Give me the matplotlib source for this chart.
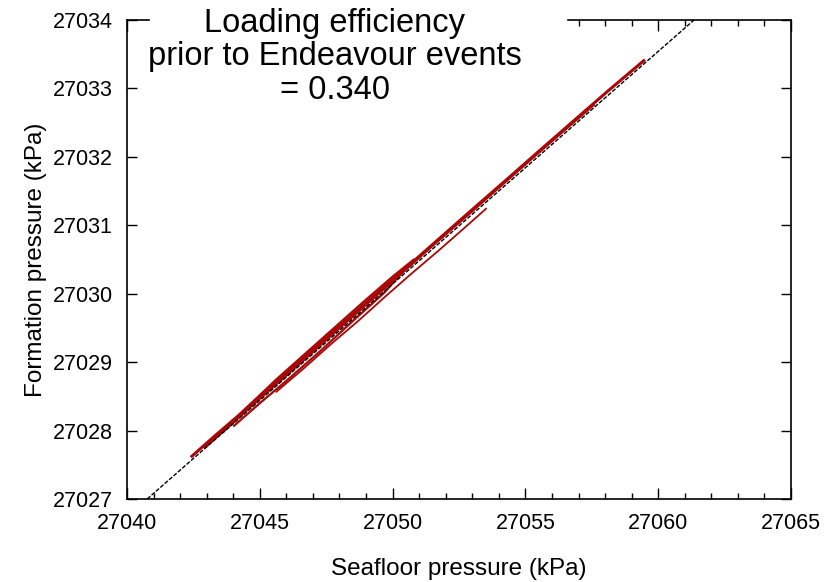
import numpy as np
import matplotlib
matplotlib.use("Agg")
import matplotlib.pyplot as plt
from matplotlib.patches import Rectangle

plt.rcParams["font.family"] = ["Liberation Sans", "DejaVu Sans"]

# --------------------------------------------
# DATA (kPa)
# --------------------------------------------
# upper sweep, slightly above the fit line
sea_up = [27042.4, 27043.3, 27044.2, 27045.1, 27046.0, 27047.2, 27048.3, 27049.5,
          27050.6, 27051.8, 27053.0, 27054.3, 27055.5, 27056.8, 27058.1, 27059.5]
form_up = [27027.61, 27027.92, 27028.22, 27028.54, 27028.84, 27029.26, 27029.63, 27030.04,
           27030.41, 27030.82, 27031.23, 27031.67, 27032.08, 27032.52, 27032.96, 27033.42]

# return sweep, on the fit line
sea_mid = [27057.6, 27056.5, 27055.2, 27054.0, 27052.8, 27051.5, 27050.2, 27049.0,
           27047.6, 27046.3, 27045.0, 27043.8, 27042.9]
form_mid = [27032.77, 27032.40, 27031.96, 27031.55, 27031.14, 27030.70, 27030.25, 27029.84,
            27029.36, 27028.91, 27028.47, 27028.05, 27027.74]

# broader loops in the middle of the range
sea_loop = [27043.6, 27044.5, 27045.6, 27046.7, 27047.8, 27048.9, 27050.0, 27050.8,
            27049.7, 27048.5, 27047.3, 27046.1, 27045.0, 27044.0]
form_loop = [27027.97, 27028.33, 27028.74, 27029.12, 27029.50, 27029.88, 27030.25, 27030.50,
             27030.02, 27029.60, 27029.17, 27028.76, 27028.40, 27028.06]

# lower branch ending near 27053.5
sea_low = [27045.6, 27046.6, 27047.7, 27048.7, 27049.7, 27050.7, 27051.7, 27052.7, 27053.54]
form_low = [27028.56, 27028.89, 27029.27, 27029.60, 27029.95, 27030.29, 27030.62, 27030.96, 27031.25]

# fitted loading efficiency line
efficiency = 0.340
fit_sea = [27040.76, 27061.35]
fit_form = [27027.0, 27027.0 + efficiency * (fit_sea[1] - fit_sea[0])]

red = "#a80808"

# --------------------------------------------
# PLOT
# --------------------------------------------
fig = plt.figure(figsize=(8.25, 5.82), dpi=100)
ax = fig.add_axes([0.1539, 0.1426, 0.8049, 0.8230])

for xs, ys, lw in [(sea_up, form_up, 2.2), (sea_mid, form_mid, 1.8),
                   (sea_loop, form_loop, 1.6), (sea_low, form_low, 1.3)]:
    ax.plot(xs, ys, color=red, lw=lw, solid_capstyle="butt")

ax.plot(fit_sea, fit_form, color="black", lw=1.0, linestyle=(0, (3, 1.2)))

ax.set_xlim(27040, 27065)
ax.set_ylim(27027, 27034)
ax.set_xticks(np.arange(27040, 27066, 5))
ax.set_xticks(np.arange(27040, 27066, 1), minor=True)
ax.set_yticks(np.arange(27027, 27035, 1))
ax.ticklabel_format(useOffset=False, style="plain")

ax.tick_params(axis="x", which="major", direction="in", length=8, width=1,
               top=True, labelsize=15.5, pad=10)
ax.tick_params(axis="x", which="minor", direction="in", length=4, width=1, top=True)
ax.tick_params(axis="y", which="major", direction="in", length=7, width=1,
               right=True, labelsize=15.5, pad=10)
for s in ax.spines.values():
    s.set_linewidth(1.2)

ax.set_xlabel("Seafloor pressure (kPa)", fontsize=17.5, labelpad=17)
ax.set_ylabel("Formation pressure (kPa)", fontsize=17.5, labelpad=4)

# white box behind the annotation, hides part of the top spine
fig.patches.append(Rectangle((150 / 825, 0.93), (566 - 150) / 825, 0.07,
                             transform=fig.transFigure, color="white", zorder=5))
fig.text(335 / 825, 1 - 57 / 582,
         "Loading efficiency\nprior to Endeavour events\n= %.3f" % efficiency,
         ha="center", va="center", fontsize=23.5, linespacing=1.11, zorder=6)

fig.savefig("out.png", dpi=100)
